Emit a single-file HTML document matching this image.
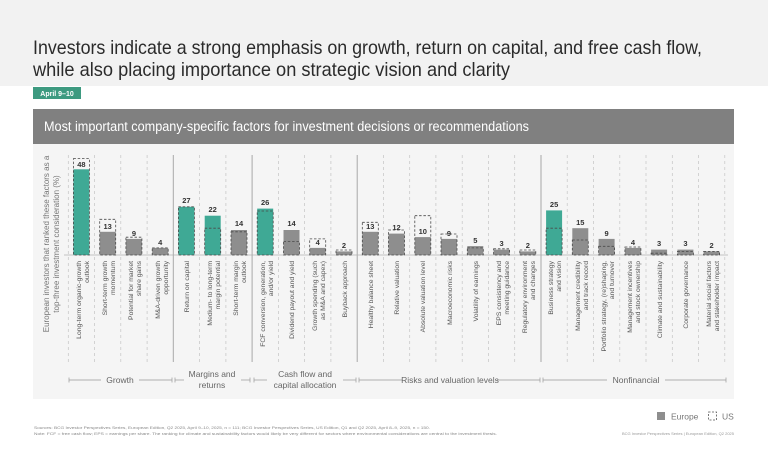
<!DOCTYPE html>
<html><head><meta charset="utf-8"><style>
html,body{margin:0;padding:0;background:#fff;}
svg{display:block;font-family:"Liberation Sans",sans-serif;}
</style></head><body>
<svg width="768" height="457" viewBox="0 0 768 457" xmlns="http://www.w3.org/2000/svg">
<rect x="0" y="0" width="768" height="86" fill="#f2f2f2"/>
<text x="33" y="54" font-size="19.5" fill="#2b2b2b" textLength="669" lengthAdjust="spacingAndGlyphs">Investors indicate a strong emphasis on growth, return on capital, and free cash flow,</text>
<text x="33" y="76" font-size="19.5" fill="#2b2b2b" textLength="477" lengthAdjust="spacingAndGlyphs">while also placing importance on strategic vision and clarity</text>
<rect x="33" y="87" width="48" height="12" fill="#3d9a80"/>
<text x="57" y="96" font-size="7" font-weight="bold" fill="#fff" text-anchor="middle">April 9–10</text>
<rect x="33" y="109" width="701" height="35" fill="#808080"/>
<text x="44" y="131" font-size="13.5" fill="#fff" textLength="485" lengthAdjust="spacingAndGlyphs">Most important company-specific factors for investment decisions or recommendations</text>
<rect x="33" y="144" width="701" height="255" fill="#f5f5f5"/>

<!-- y-axis label -->
<text transform="translate(49,244) rotate(-90)" font-size="8" fill="#777" text-anchor="middle">European investors that ranked these factors as a</text>
<text transform="translate(59,244) rotate(-90)" font-size="8" fill="#777" text-anchor="middle">top-three investment consideration (%)</text>

<!-- gridlines -->
<g stroke="#c4c4c4" stroke-width="0.7" stroke-dasharray="3,3">
<line x1="68.3" y1="155" x2="68.3" y2="362"/><line x1="94.6" y1="155" x2="94.6" y2="362"/><line x1="120.8" y1="155" x2="120.8" y2="362"/><line x1="147.1" y1="155" x2="147.1" y2="362"/>
<line x1="199.6" y1="155" x2="199.6" y2="362"/><line x1="225.9" y1="155" x2="225.9" y2="362"/>
<line x1="278.4" y1="155" x2="278.4" y2="362"/><line x1="304.6" y1="155" x2="304.6" y2="362"/><line x1="330.9" y1="155" x2="330.9" y2="362"/>
<line x1="383.4" y1="155" x2="383.4" y2="362"/><line x1="409.7" y1="155" x2="409.7" y2="362"/><line x1="435.9" y1="155" x2="435.9" y2="362"/><line x1="462.2" y1="155" x2="462.2" y2="362"/><line x1="488.5" y1="155" x2="488.5" y2="362"/><line x1="514.7" y1="155" x2="514.7" y2="362"/>
<line x1="567.2" y1="155" x2="567.2" y2="362"/><line x1="593.5" y1="155" x2="593.5" y2="362"/><line x1="619.8" y1="155" x2="619.8" y2="362"/><line x1="646.0" y1="155" x2="646.0" y2="362"/><line x1="672.3" y1="155" x2="672.3" y2="362"/><line x1="698.5" y1="155" x2="698.5" y2="362"/><line x1="724.8" y1="155" x2="724.8" y2="362"/>
</g>
<g stroke="#a8a8a8" stroke-width="1">
<line x1="173.3" y1="155" x2="173.3" y2="362"/><line x1="252.1" y1="155" x2="252.1" y2="362"/><line x1="357.2" y1="155" x2="357.2" y2="362"/><line x1="541.0" y1="155" x2="541.0" y2="362"/>
</g>
<line x1="64" y1="255" x2="728" y2="255" stroke="#b0b0b0" stroke-width="0.8"/>

<!-- bars -->
<g fill="#8e8e8e">
<rect x="99.7" y="231.8" width="16" height="23.2"/>
<rect x="125.9" y="238.9" width="16" height="16.1"/>
<rect x="152.2" y="247.9" width="16" height="7.1"/>
<rect x="231.0" y="230" width="16" height="25"/>
<rect x="283.5" y="230" width="16" height="25"/>
<rect x="309.7" y="247.9" width="16" height="7.1"/>
<rect x="336.0" y="251.4" width="16" height="3.6"/>
<rect x="362.3" y="231.8" width="16" height="23.2"/>
<rect x="388.5" y="233.6" width="16" height="21.4"/>
<rect x="414.8" y="237.1" width="16" height="17.9"/>
<rect x="441.0" y="238.9" width="16" height="16.1"/>
<rect x="467.3" y="246.1" width="16" height="8.9"/>
<rect x="493.6" y="249.6" width="16" height="5.4"/>
<rect x="519.8" y="251.4" width="16" height="3.6"/>
<rect x="572.3" y="228.2" width="16" height="26.8"/>
<rect x="598.6" y="238.9" width="16" height="16.1"/>
<rect x="624.9" y="247.9" width="16" height="7.1"/>
<rect x="651.1" y="249.6" width="16" height="5.4"/>
<rect x="677.4" y="249.6" width="16" height="5.4"/>
<rect x="703.6" y="251.4" width="16" height="3.6"/>
</g>
<g fill="#3fa995">
<rect x="73.4" y="169.3" width="16" height="85.7"/>
<rect x="178.4" y="206.8" width="16" height="48.2"/>
<rect x="204.7" y="215.7" width="16" height="39.3"/>
<rect x="257.2" y="208.6" width="16" height="46.4"/>
<rect x="546.1" y="210.4" width="16" height="44.6"/>
</g>
<!-- US dashed boxes -->
<g fill="none" stroke="#4a4a4a" stroke-width="0.8" stroke-dasharray="2.5,1.8">
<rect x="73.4" y="158.6" width="16" height="96.4"/>
<rect x="99.7" y="219.3" width="16" height="35.7"/>
<rect x="125.9" y="237.2" width="16" height="17.8"/>
<rect x="152.2" y="247.9" width="16" height="7.1"/>
<rect x="178.4" y="206.8" width="16" height="48.2"/>
<rect x="204.7" y="228.2" width="16" height="26.8"/>
<rect x="231.0" y="231.8" width="16" height="23.2"/>
<rect x="257.2" y="211" width="16" height="44"/>
<rect x="283.5" y="241.6" width="16" height="13.4"/>
<rect x="309.7" y="238.9" width="16" height="16.1"/>
<rect x="336.0" y="250" width="16" height="5"/>
<rect x="362.3" y="222.3" width="16" height="32.7"/>
<rect x="388.5" y="230" width="16" height="25"/>
<rect x="414.8" y="215.7" width="16" height="39.3"/>
<rect x="441.0" y="234" width="16" height="21"/>
<rect x="467.3" y="247.9" width="16" height="7.1"/>
<rect x="493.6" y="248.8" width="16" height="6.2"/>
<rect x="519.8" y="250" width="16" height="5"/>
<rect x="546.1" y="228.2" width="16" height="26.8"/>
<rect x="572.3" y="240" width="16" height="15"/>
<rect x="598.6" y="246.3" width="16" height="8.7"/>
<rect x="624.9" y="247" width="16" height="8"/>
<rect x="651.1" y="253.2" width="16" height="1.8"/>
<rect x="677.4" y="251.4" width="16" height="3.6"/>
<rect x="703.6" y="251.4" width="16" height="3.6"/>
</g>
<!-- value labels -->
<g font-size="7.5" font-weight="bold" fill="#333" text-anchor="middle">
<text x="81.4" y="167">48</text><text x="107.7" y="229">13</text><text x="133.9" y="236">9</text><text x="160.2" y="245">4</text>
<text x="186.4" y="203">27</text><text x="212.7" y="212">22</text><text x="239" y="226">14</text>
<text x="265.2" y="205">26</text><text x="291.5" y="226">14</text><text x="317.7" y="245">4</text><text x="344" y="248">2</text>
<text x="370.3" y="229">13</text><text x="396.5" y="230">12</text><text x="422.8" y="234">10</text><text x="449" y="236">9</text><text x="475.3" y="243">5</text><text x="501.6" y="246">3</text><text x="527.8" y="248">2</text>
<text x="554.1" y="207">25</text><text x="580.3" y="225">15</text><text x="606.6" y="236">9</text><text x="632.9" y="245">4</text><text x="659.1" y="246">3</text><text x="685.4" y="246">3</text><text x="711.6" y="248">2</text>
</g>
<!-- category labels -->
<g font-size="6.8" fill="#555" text-anchor="end">
<text transform="translate(81,261) rotate(-90)">Long-term organic-growth</text><text transform="translate(89,261) rotate(-90)">outlook</text>
<text transform="translate(107,261) rotate(-90)">Short-term growth</text><text transform="translate(115,261) rotate(-90)">momentum</text>
<text transform="translate(133,261) rotate(-90)">Potential for market</text><text transform="translate(141,261) rotate(-90)">share gains</text>
<text transform="translate(160,261) rotate(-90)">M&amp;A-driven growth</text><text transform="translate(168,261) rotate(-90)">opportunity</text>
<text transform="translate(189,261) rotate(-90)">Return on capital</text>
<text transform="translate(212,261) rotate(-90)">Medium- to long-term</text><text transform="translate(220,261) rotate(-90)">margin potential</text>
<text transform="translate(238,261) rotate(-90)">Short-term margin</text><text transform="translate(246,261) rotate(-90)">outlook</text>
<text transform="translate(265,261) rotate(-90)">FCF conversion, generation,</text><text transform="translate(273,261) rotate(-90)">and/or yield</text>
<text transform="translate(294,261) rotate(-90)">Dividend payout and yield</text>
<text transform="translate(317,261) rotate(-90)">Growth spending (such</text><text transform="translate(325,261) rotate(-90)">as M&amp;A and capex)</text>
<text transform="translate(347,261) rotate(-90)">Buyback approach</text>
<text transform="translate(373,261) rotate(-90)">Healthy balance sheet</text>
<text transform="translate(399,261) rotate(-90)">Relative valuation</text>
<text transform="translate(425,261) rotate(-90)">Absolute valuation level</text>
<text transform="translate(452,261) rotate(-90)">Macroeconomic risks</text>
<text transform="translate(478,261) rotate(-90)">Volatility of earnings</text>
<text transform="translate(501,261) rotate(-90)">EPS consistency and</text><text transform="translate(509,261) rotate(-90)">meeting guidance</text>
<text transform="translate(527,261) rotate(-90)">Regulatory environment</text><text transform="translate(535,261) rotate(-90)">and changes</text>
<text transform="translate(553,261) rotate(-90)">Business strategy</text><text transform="translate(561,261) rotate(-90)">and vision</text>
<text transform="translate(580,261) rotate(-90)">Management credibility</text><text transform="translate(588,261) rotate(-90)">and track record</text>
<text transform="translate(606,261) rotate(-90)">Portfolio strategy, (re)shaping,</text><text transform="translate(614,261) rotate(-90)">and turnover</text>
<text transform="translate(632,261) rotate(-90)">Management incentives</text><text transform="translate(640,261) rotate(-90)">and stock ownership</text>
<text transform="translate(662,261) rotate(-90)">Climate and sustainability</text>
<text transform="translate(688,261) rotate(-90)">Corporate governance</text>
<text transform="translate(711,261) rotate(-90)">Material social factors</text><text transform="translate(719,261) rotate(-90)">and stakeholder impact</text>
</g>
<!-- group brackets -->
<g stroke="#999" stroke-width="0.7">
<line x1="69" y1="380" x2="101" y2="380"/><line x1="139" y1="380" x2="172" y2="380"/><line x1="69" y1="377.5" x2="69" y2="382.5"/><line x1="172" y1="377.5" x2="172" y2="382.5"/>
<line x1="175" y1="380" x2="184" y2="380"/><line x1="241" y1="380" x2="250" y2="380"/><line x1="175" y1="377.5" x2="175" y2="382.5"/><line x1="250" y1="377.5" x2="250" y2="382.5"/>
<line x1="254" y1="380" x2="267" y2="380"/><line x1="343" y1="380" x2="356" y2="380"/><line x1="254" y1="377.5" x2="254" y2="382.5"/><line x1="356" y1="377.5" x2="356" y2="382.5"/>
<line x1="359" y1="380" x2="402" y2="380"/><line x1="497" y1="380" x2="540" y2="380"/><line x1="359" y1="377.5" x2="359" y2="382.5"/><line x1="540" y1="377.5" x2="540" y2="382.5"/>
<line x1="543" y1="380" x2="607" y2="380"/><line x1="665" y1="380" x2="726" y2="380"/><line x1="543" y1="377.5" x2="543" y2="382.5"/><line x1="726" y1="377.5" x2="726" y2="382.5"/>
</g>
<g font-size="8.5" fill="#666" text-anchor="middle">
<text x="120" y="383">Growth</text>
<text x="212" y="377">Margins and</text><text x="212" y="388">returns</text>
<text x="305" y="377">Cash flow and</text><text x="305" y="388">capital allocation</text>
<text x="450" y="383">Risks and valuation levels</text>
<text x="636" y="383">Nonfinancial</text>
</g>
<!-- legend -->
<rect x="657" y="412" width="8" height="8" fill="#8e8e8e"/>
<text x="671" y="419.5" font-size="8.5" fill="#777">Europe</text>
<rect x="708.5" y="412" width="8" height="8" fill="none" stroke="#555" stroke-width="0.8" stroke-dasharray="2,1.5"/>
<text x="722" y="419.5" font-size="8.5" fill="#777">US</text>
<!-- footnotes -->
<text x="34" y="429" font-size="4" fill="#888" textLength="396" lengthAdjust="spacingAndGlyphs">Sources: BCG Investor Perspectives Series, European Edition, Q2 2025, April 9–10, 2025, n = 111; BCG Investor Perspectives Series, US Edition, Q1 and Q2 2025, April 8–9, 2025, n = 150.</text>
<text x="34" y="435" font-size="4" fill="#888" textLength="463" lengthAdjust="spacingAndGlyphs">Note: FCF = free cash flow; EPS = earnings per share. The ranking for climate and sustainability factors would likely be very different for sectors where environmental considerations are central to the investment thesis.</text>
<text x="734" y="435" font-size="4" fill="#999" text-anchor="end">BCG Investor Perspectives Series | European Edition, Q2 2025</text>
</svg>
</body></html>
